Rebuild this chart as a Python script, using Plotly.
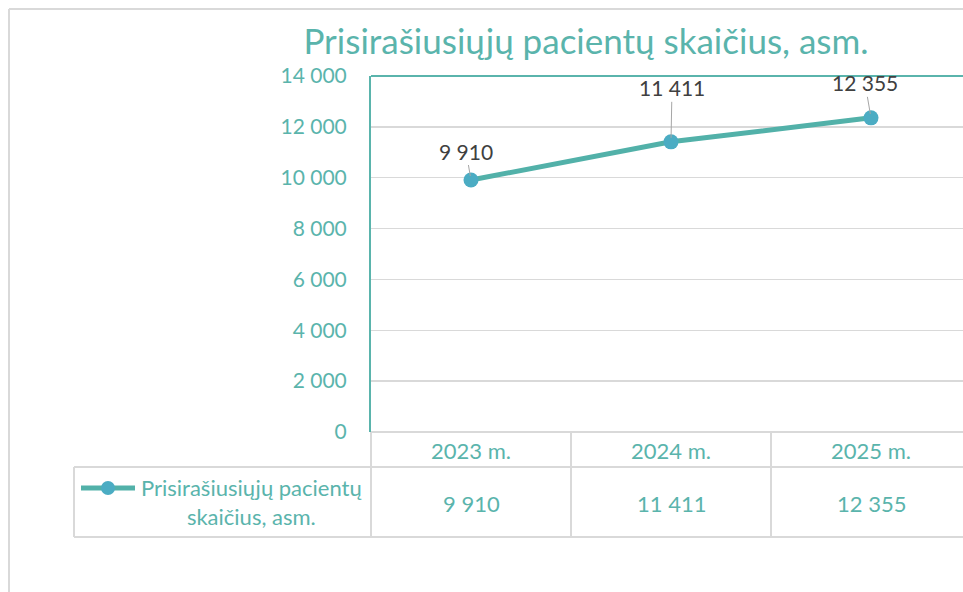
import plotly.graph_objects as go

categories = ["2023 m.", "2024 m.", "2025 m."]
values = [9910, 11411, 12355]
title_text = "Prisirašiusiųjų pacientų skaičius, asm."
legend_text = "Prisirašiusiųjų pacientų<br>skaičius, asm."
y_ticks = [0, 2000, 4000, 6000, 8000, 10000, 12000, 14000]
label_offsets = [(-5, -29), (1, -54), (-6, -35)]

TEAL = "#5AB4AC"
LINE = "#52B1A9"
MARK = "#4BACC3"
GRID = "#D9D9D9"
FONT = "Lato"

W, H = 963, 592
L, T, B = 371, 76, 432          # pixel positions of plot area
PW, PH = W - L, B - T

def px(x):
    return (x - L) / PW

def py(y):
    return (B - y) / PH

def fmt(v):
    return f"{v:,}".replace(",", " ")

xs = list(range(len(categories)))

fig = go.Figure()
fig.add_trace(go.Scatter(
    x=xs, y=values, mode="lines+markers",
    line=dict(color=LINE, width=5),
    marker=dict(color=MARK, size=15),
    showlegend=False, cliponaxis=False, hoverinfo="skip",
))

shapes = []
# outer border (left, top)
shapes.append(dict(type="line", xref="paper", yref="paper", x0=px(9), x1=px(9), y0=py(9), y1=py(600),
                   line=dict(color="#D9D9D9", width=2)))
shapes.append(dict(type="line", xref="paper", yref="paper", x0=px(9), x1=px(1000), y0=py(9), y1=py(9),
                   line=dict(color="#D9D9D9", width=2)))
# top plot border teal
shapes.append(dict(type="line", xref="paper", yref="paper", x0=0, x1=1.05, y0=1, y1=1,
                   line=dict(color=TEAL, width=2)))
# table horizontal lines
for yy, x0 in [(432, 371), (467, 74), (537, 74)]:
    shapes.append(dict(type="line", xref="paper", yref="paper", x0=px(x0), x1=1.05, y0=py(yy), y1=py(yy),
                       line=dict(color=GRID, width=2)))
# table vertical lines at category boundaries
for i in range(len(categories)):
    xb = L + 200 * i
    shapes.append(dict(type="line", xref="paper", yref="paper", x0=px(xb), x1=px(xb), y0=py(432), y1=py(537),
                       line=dict(color=GRID, width=2)))
shapes.append(dict(type="line", xref="paper", yref="paper", x0=px(74), x1=px(74), y0=py(467), y1=py(537),
                   line=dict(color=GRID, width=2)))
# legend key
shapes.append(dict(type="line", xref="paper", yref="paper", x0=px(81), x1=px(135), y0=py(488), y1=py(488),
                   line=dict(color=LINE, width=5)))
shapes.append(dict(type="circle", xref="paper", yref="paper", x0=px(101), x1=px(115), y0=py(481), y1=py(495),
                   fillcolor=MARK, line=dict(color=MARK, width=0)))

annotations = []
# data labels with leader lines
for i, v in enumerate(values):
    ax, ay = label_offsets[i]
    annotations.append(dict(x=i, y=v, xref="x", yref="y", text=fmt(v), showarrow=True,
                            ax=ax, ay=ay, arrowhead=0, arrowwidth=1, arrowcolor="#A6A6A6",
                            standoff=4, font=dict(family=FONT, size=21, color="#404040")))
# table texts
for i, c in enumerate(categories):
    annotations.append(dict(x=i, y=py(450), xref="x", yref="paper", text=c, showarrow=False,
                            xanchor="center", yanchor="middle",
                            font=dict(family=FONT, size=22, color=TEAL)))
    annotations.append(dict(x=i, y=py(503), xref="x", yref="paper", text=fmt(values[i]), showarrow=False,
                            xanchor="center", yanchor="middle",
                            font=dict(family=FONT, size=22, color=TEAL)))
annotations.append(dict(x=px(251), y=py(502), xref="paper", yref="paper",
                        text=legend_text, showarrow=False, align="center",
                        xanchor="center", yanchor="middle",
                        font=dict(family=FONT, size=22, color=TEAL)))

fig.update_layout(
    width=W, height=H,
    margin=dict(l=L, r=0, t=T, b=H - B, pad=0),
    paper_bgcolor="white", plot_bgcolor="white",
    separators=", ",
    title=dict(text=title_text, x=px(586), xanchor="center", xref="paper",
               y=1 - 42 / H, yanchor="middle", yref="container",
               font=dict(family=FONT, size=35, color=TEAL)),
    xaxis=dict(range=[-0.5, -0.5 + PW / 200], showticklabels=False, showgrid=False,
               zeroline=False, showline=False, fixedrange=True),
    yaxis=dict(range=[0, 14000], tickvals=y_ticks, tickformat=",d",
               showgrid=True, gridcolor=GRID, gridwidth=1.5, zeroline=False,
               showline=True, linecolor=TEAL, linewidth=2,
               ticks="", ticklabelstandoff=18,
               tickfont=dict(family=FONT, size=21, color=TEAL)),
    shapes=shapes, annotations=annotations,
    showlegend=False,
)

fig.write_html("out.html", config={"displayModeBar": False, "staticPlot": True},
               post_script="document.body.style.margin='0';document.body.style.overflow='hidden';")
